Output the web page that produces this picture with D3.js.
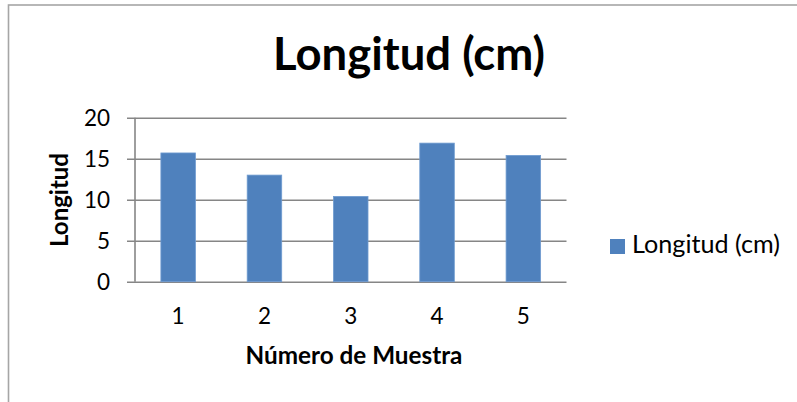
<!DOCTYPE html>
<html><head><meta charset="utf-8">
<script src="https://cdn.jsdelivr.net/npm/d3@7"></script>
<style>html,body{margin:0;padding:0;background:#fff;} svg{display:block;}</style>
</head><body>
<svg id="c" width="797" height="402"></svg>
<script>
const categories = ["1","2","3","4","5"];
const values = [15.7, 13.0, 10.4, 16.9, 15.4];
const yTicks = [0, 5, 10, 15, 20];
const seriesName = "Longitud (cm)";
const chartTitle = "Longitud (cm)";
const xTitle = "Número de Muestra";
const yTitle = "Longitud";

const FONT = "Lato, 'Open Sans', sans-serif";
const svg = d3.select("#c");
const plot = {l: 135, r: 566.5, t: 117.7, b: 281.7};

// chart border
svg.append("rect").attr("x", 8.5).attr("y", 5).attr("width", 900).attr("height", 500)
  .attr("fill", "none").attr("stroke", "#a6a6a6").attr("stroke-width", 1.6);

const x = d3.scaleBand().domain(categories).range([plot.l, plot.r]).paddingInner(0.6).paddingOuter(0.3);
const xc = d3.scaleBand().domain(categories).range([plot.l, plot.r]);
const y = d3.scaleLinear().domain([0, 20]).range([plot.b, plot.t]);

function fit(sel, target) {
  const n = sel.node();
  let fs = parseFloat(sel.attr("font-size"));
  const w = n.getComputedTextLength();
  if (w > 0) sel.attr("font-size", (fs * target / w).toFixed(2));
}

// gridlines + y axis
const yAxis = d3.axisLeft(y).tickValues(yTicks).tickSize(plot.r - plot.l + 8).tickPadding(17);
const gy = svg.append("g").attr("transform", `translate(${plot.r},0)`).call(yAxis);
gy.select(".domain").remove();
gy.selectAll(".tick line").attr("stroke", "#868686").attr("stroke-width", 1.6);
gy.selectAll(".tick text").attr("font-family", FONT).attr("font-size", 22.5).attr("fill", "#000")
  .attr("x", -(plot.r - plot.l) - 25).attr("dy", "0.35em");

// vertical axis line
svg.append("line").attr("x1", plot.l).attr("x2", plot.l).attr("y1", plot.t).attr("y2", plot.b)
  .attr("stroke", "#868686").attr("stroke-width", 1.6);

// x axis labels
const xAxis = d3.axisBottom(xc).tickSize(0).tickPadding(0);
const gx = svg.append("g").attr("transform", `translate(0,${plot.b})`).call(xAxis);
gx.select(".domain").remove();
gx.selectAll(".tick text").attr("font-family", FONT).attr("font-size", 22.5).attr("fill", "#000")
  .attr("y", 42.5).attr("dy", 0);

// bars
svg.append("g").selectAll("rect").data(values).join("rect")
  .attr("x", (d, i) => x(categories[i]))
  .attr("width", x.bandwidth())
  .attr("y", d => y(d))
  .attr("height", d => y(0) - y(d))
  .attr("fill", "#4f81bd")
  .attr("stroke", "#6f9bd0").attr("stroke-width", 0.8);

// title
const t = svg.append("text").attr("x", 409).attr("y", 70).attr("text-anchor", "middle")
  .attr("font-family", FONT).attr("font-weight", "bold").attr("font-size", 40).attr("fill", "#000")
  .text(chartTitle);
fit(t, 272);

// x title
const xt = svg.append("text").attr("x", 354).attr("y", 364).attr("text-anchor", "middle")
  .attr("font-family", FONT).attr("font-weight", "bold").attr("font-size", 20).attr("fill", "#000")
  .text(xTitle);
fit(xt, 217);

// y title
const yt = svg.append("text").attr("transform", "translate(68,200) rotate(-90)").attr("text-anchor", "middle")
  .attr("font-family", FONT).attr("font-weight", "bold").attr("font-size", 20).attr("fill", "#000")
  .text(yTitle);
fit(yt, 94);

// legend
const lg = svg.append("g");
lg.append("rect").attr("x", 610).attr("y", 239).attr("width", 15).attr("height", 15).attr("fill", "#4f81bd");
const lt = lg.append("text").attr("x", 632).attr("y", 253).attr("font-family", FONT).attr("font-size", 20)
  .attr("fill", "#000").text(seriesName);
fit(lt, 148);
</script>
</body></html>
